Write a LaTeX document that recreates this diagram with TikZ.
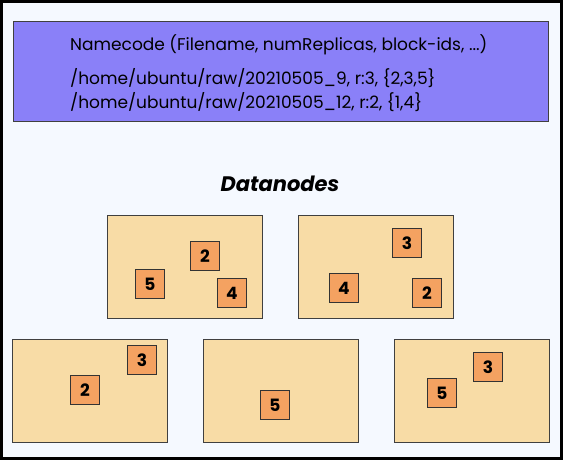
\documentclass[tikz,border=0pt]{standalone}
\usepackage{fontspec}
\setmainfont{Poppins}
\definecolor{bgblue}{RGB}{245,249,255}
\definecolor{namefill}{RGB}{138,128,248}
\definecolor{nodefill}{RGB}{248,220,166}
\definecolor{blockfill}{RGB}{244,162,97}
\begin{document}
\begin{tikzpicture}[
            x=1pt, y=-1pt,
            namebox/.style={
                rectangle,
                draw=black!75,
                fill=namefill,
                thick,
                minimum width=535pt,
                minimum height=100pt
            },
            nametext/.style={
                anchor=west,
                inner sep=0pt,
                font=\fontsize{17}{20}\selectfont
            },
            datanode/.style={
                rectangle,
                draw=black!75,
                fill=nodefill,
                thick,
                minimum width=155pt,
                minimum height=103pt
            },
            block/.style={
                rectangle,
                draw=black!80,
                fill=blockfill,
                thick,
                minimum size=29pt,
                inner sep=0pt,
                font=\fontsize{17}{20}\selectfont\bfseries
            }
        ]

        % frame
        \useasboundingbox (0,0) rectangle (563,460);
        \draw[line width=3pt, fill=bgblue] (1.5,1.5) rectangle (561.5,458.5);

        % namecode
        \node[namebox] (namecode) at (280.5,71.5) {};
        \node[nametext] (title) at (70,45) {Namecode (Filename, numReplicas, block-ids, ...)};
        \node[nametext] (file1) at (70,78) {/home/ubuntu/raw/20210505\_9, r:3, \{2,3,5\}};
        \node[nametext] (file2) at (70,102) {/home/ubuntu/raw/20210505\_12, r:2, \{1,4\}};

        % datanodes
        \node[font=\fontsize{21}{24}\selectfont\bfseries\itshape] (label) at (280,184) {Datanodes};
        \node[datanode] (dn1) at (184.5,266.5) {};
        \node[datanode] (dn2) at (375.5,266.5) {};
        \node[datanode] (dn3) at (89.5,390.5) {};
        \node[datanode] (dn4) at (280.5,390.5) {};
        \node[datanode] (dn5) at (471.5,390.5) {};

        % blocks
        \node[block] (b12) at (205,256) {2};
        \node[block] (b15) at (150,284) {5};
        \node[block] (b14) at (232,293) {4};
        \node[block] (b23) at (407,243) {3};
        \node[block] (b24) at (344,288) {4};
        \node[block] (b22) at (427,293) {2};
        \node[block] (b33) at (142,360) {3};
        \node[block] (b32) at (85,390) {2};
        \node[block] (b45) at (275,405) {5};
        \node[block] (b53) at (488,367) {3};
        \node[block] (b55) at (442,393) {5};
    \end{tikzpicture}
\end{document}
